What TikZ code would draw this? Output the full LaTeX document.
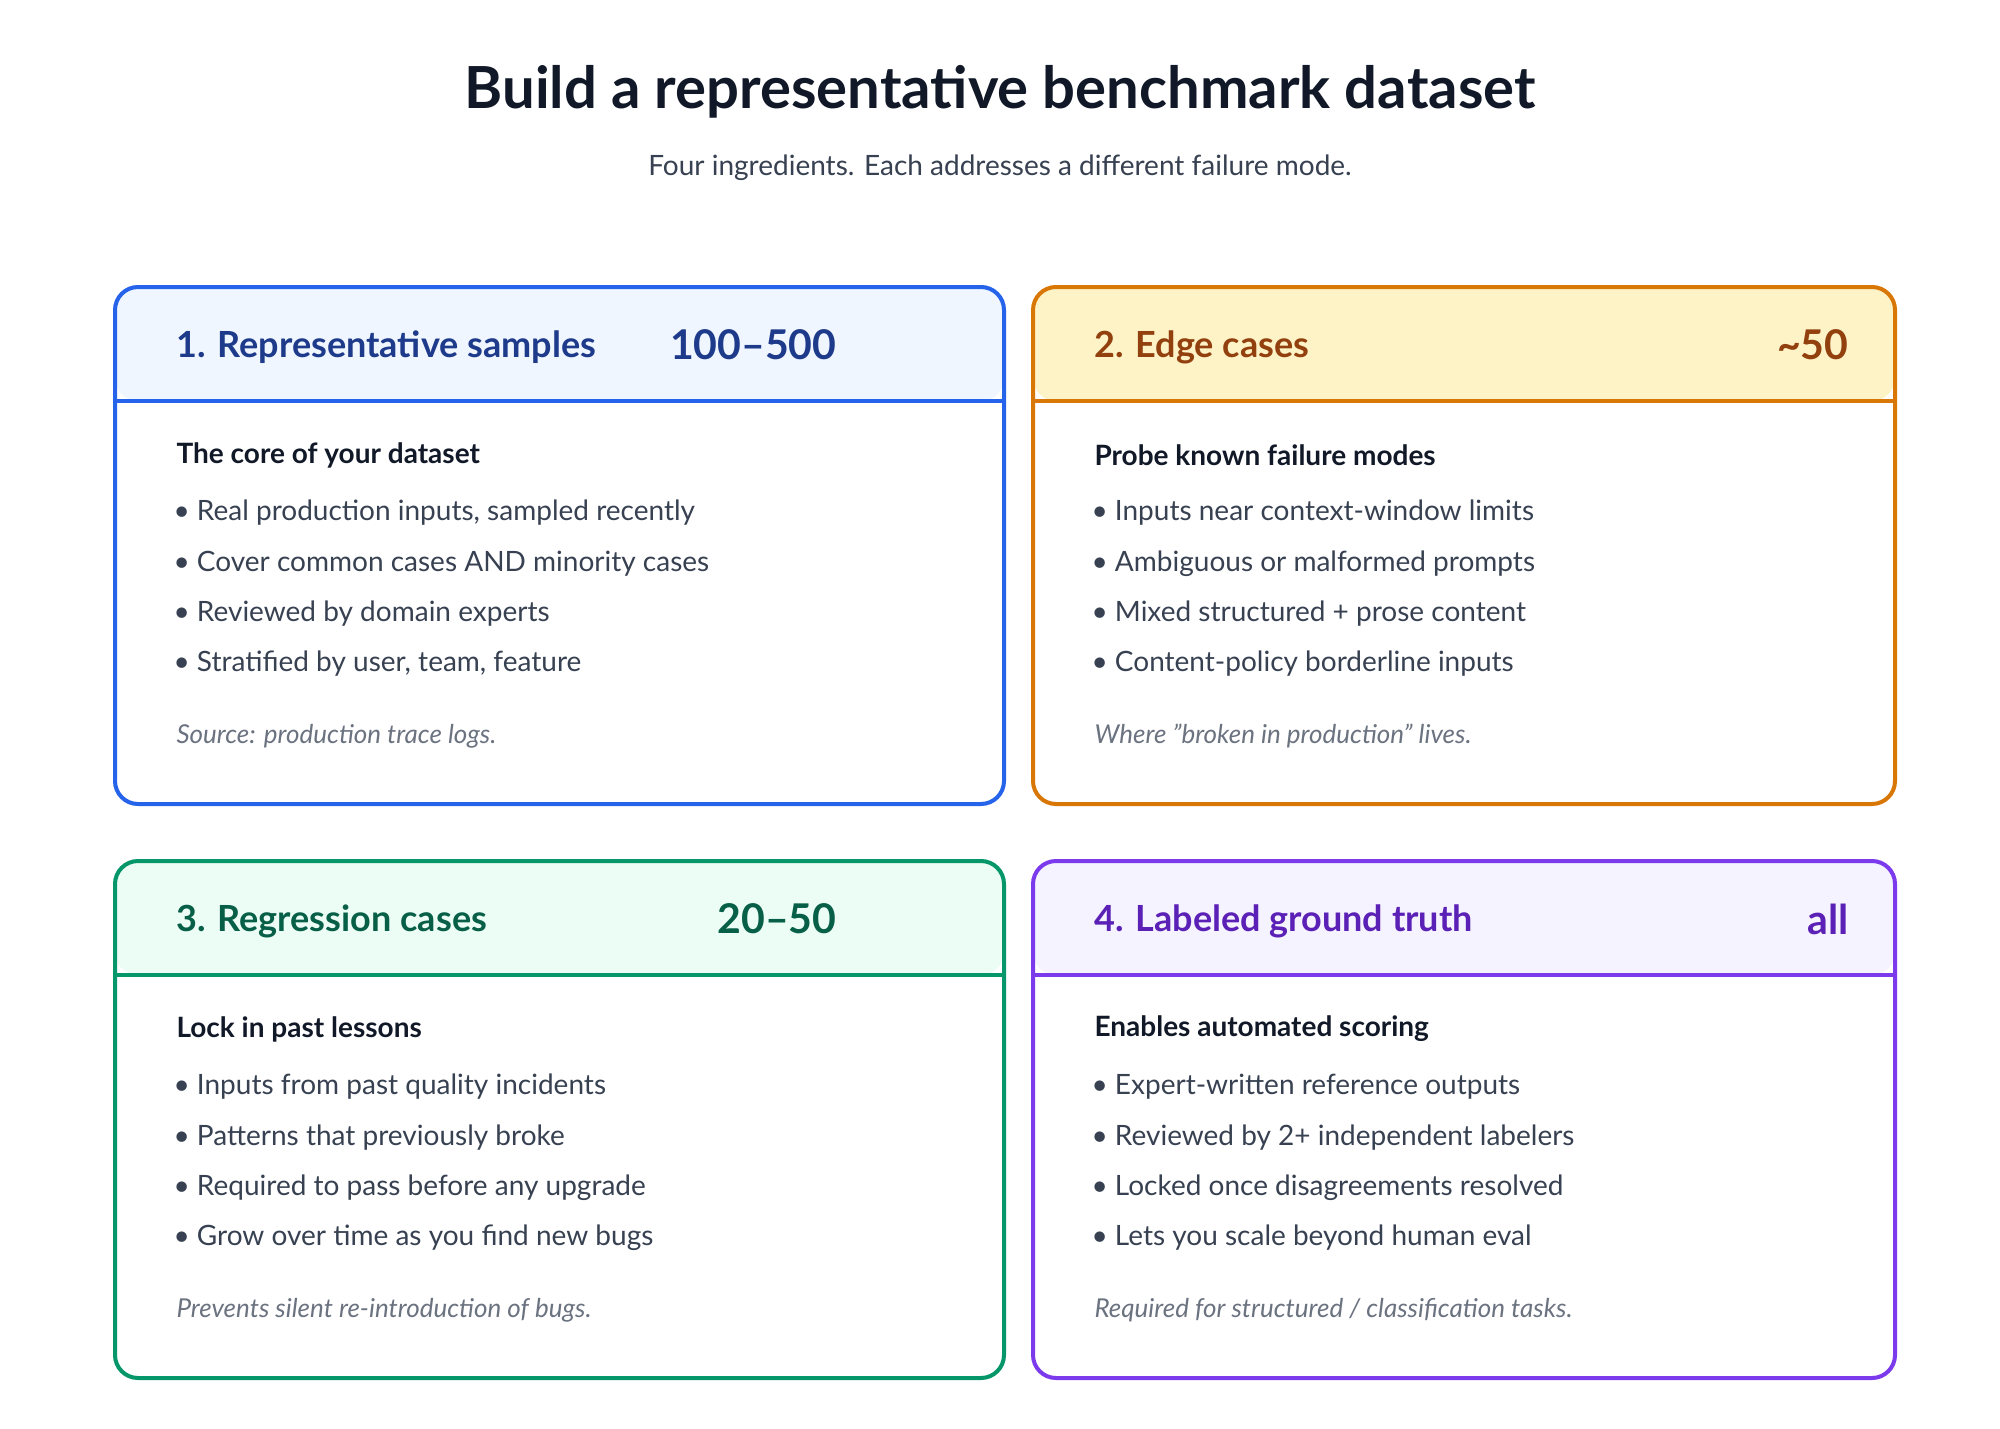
\documentclass[tikz,border=0pt]{standalone}
\usepackage{fontspec}
\setmainfont{Lato}
\begin{document}
\begin{tikzpicture}[x=1pt,y=-1pt,
  hd/.style={font=\fontsize{36}{40}\selectfont\bfseries,anchor=west},
  num/.style={font=\fontsize{41}{46}\selectfont\bfseries,anchor=east},
  sub/.style={font=\fontsize{28}{32}\selectfont\bfseries,anchor=west,text=c111},
  bul/.style={font=\fontsize{28}{32}\selectfont,anchor=west,text=c374},
  foot/.style={font=\fontsize{26}{30}\selectfont\itshape,anchor=west,text=c6b7}]
\definecolor{c111}{HTML}{111827}\definecolor{c374}{HTML}{374151}\definecolor{c6b7}{HTML}{6B7280}
\definecolor{bB}{HTML}{2563EB}\definecolor{fB}{HTML}{EFF6FF}\definecolor{tB}{HTML}{1E3A8A}
\definecolor{bO}{HTML}{D97706}\definecolor{fO}{HTML}{FEF3C7}\definecolor{tO}{HTML}{92400E}
\definecolor{bG}{HTML}{059669}\definecolor{fG}{HTML}{ECFDF5}\definecolor{tG}{HTML}{065F46}
\definecolor{bP}{HTML}{7C3AED}\definecolor{fP}{HTML}{F5F3FF}\definecolor{tP}{HTML}{5B21B6}
\useasboundingbox[fill=white] (0,0) rectangle (2000,1429);
\node[font=\fontsize{58}{64}\selectfont\bfseries,text=c111] (title) at (1000,92) {Build a representative benchmark dataset};
\node[font=\fontsize{28}{32}\selectfont,text=c374] (subtitle) at (1000,168) {Four ingredients. Each addresses a different failure mode.};
% #1 x0, #2 x1, #3 y0, #4 border, #5 fill, #6 text, #7 title, #8 num, #9 numx
\newcommand{\card}[9]{%
  \fill[#5,rounded corners=23] (#1,#3) rectangle (#2,#3+114);
  \fill[white] (#1+2,#3+114) rectangle (#2-2,#3+120);
  \draw[#4,line width=4,rounded corners=23] (#1,#3+114) -- (#2,#3+114);
  \draw[#4,line width=4,rounded corners=23] (#1,#3) rectangle (#2,#3+517);
  \draw[#4,line width=4] (#1+1,#3+114) -- (#2-1,#3+114);
  \node[hd,text=#6] at (#1+58,#3+60) {#7};
  \node[num,text=#6] at (#9,#3+58) {#8};
}
\card{115}{1004}{287}{bB}{fB}{tB}{1. Representative samples}{100–500}{840}
\card{1033}{1895}{287}{bO}{fO}{tO}{2. Edge cases}{\textasciitilde 50}{1852}
\card{115}{1004}{861}{bG}{fG}{tG}{3. Regression cases}{20–50}{840}
\card{1033}{1895}{861}{bP}{fP}{tP}{4. Labeled ground truth}{all}{1852}
\newcommand{\body}[8]{%
  \node[sub] at (#1,#2+168) {#3};
  \node[bul] at (#1-3,#2+226) {• #4};
  \node[bul] at (#1-3,#2+277) {• #5};
  \node[bul] at (#1-3,#2+327) {• #6};
  \node[bul] at (#1-3,#2+377) {• #7};
  \node[foot] at (#1,#2+449) {#8};
}
\body{173}{287}{The core of your dataset}{Real production inputs, sampled recently}{Cover common cases AND minority cases}{Reviewed by domain experts}{Stratified by user, team, feature}{Source: production trace logs.}
\body{1091}{287}{Probe known failure modes}{Inputs near context-window limits}{Ambiguous or malformed prompts}{Mixed structured + prose content}{Content-policy borderline inputs}{Where "broken in production" lives.}
\body{173}{861}{Lock in past lessons}{Inputs from past quality incidents}{Patterns that previously broke}{Required to pass before any upgrade}{Grow over time as you find new bugs}{Prevents silent re-introduction of bugs.}
\body{1091}{861}{Enables automated scoring}{Expert-written reference outputs}{Reviewed by 2+ independent labelers}{Locked once disagreements resolved}{Lets you scale beyond human eval}{Required for structured / classification tasks.}
\end{tikzpicture}
\end{document}
